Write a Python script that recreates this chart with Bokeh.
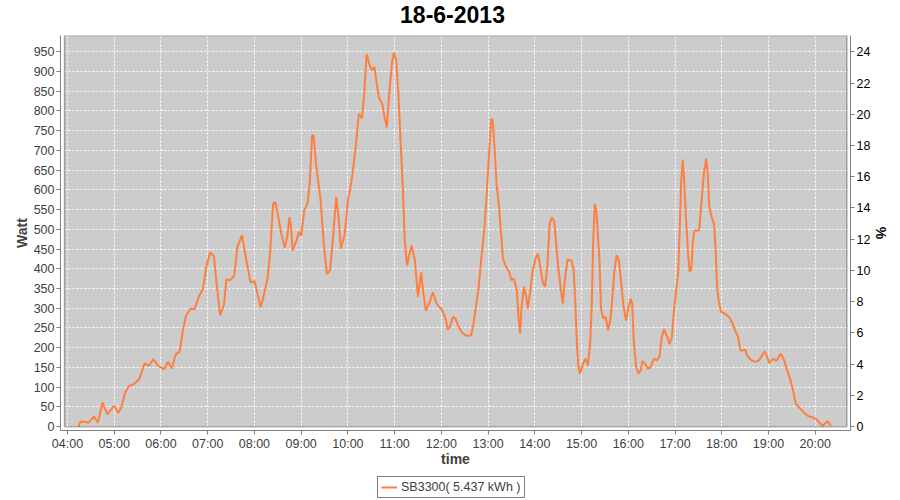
from bokeh.plotting import figure
from bokeh.layouts import column
from bokeh.models import (Range1d, LinearAxis, FixedTicker, BoxAnnotation, Legend,
                          LegendItem, ColumnDataSource, Label)
from bokeh.embed import file_html
from bokeh.resources import INLINE

title_text = "18-6-2013"
series_name = "SB3300( 5.437 kWh )"
x_label = "time"
left_label = "Watt"
right_label = "%"

time_labels = [
    "04:14", "04:17", "04:21", "04:27", "04:34", "04:39", "04:45", "04:51", "05:00", "05:05",
    "05:09", "05:14", "05:19", "05:25", "05:32", "05:39", "05:45", "05:50", "05:56", "06:04",
    "06:09", "06:14", "06:19", "06:24", "06:28", "06:32", "06:38", "06:43", "06:49", "06:54",
    "06:58", "07:03", "07:08", "07:12", "07:16", "07:21", "07:24", "07:29", "07:34", "07:38",
    "07:44", "07:49", "07:55", "08:00", "08:04", "08:08", "08:12", "08:17", "08:20", "08:24",
    "08:27", "08:31", "08:35", "08:39", "08:42", "08:45", "08:47", "08:49", "08:54", "08:57",
    "09:00", "09:04", "09:08", "09:11", "09:14", "09:16", "09:19", "09:22", "09:25", "09:29",
    "09:33", "09:37", "09:41", "09:45", "09:48", "09:51", "09:56", "10:00", "10:03", "10:06",
    "10:10", "10:14", "10:18", "10:21", "10:24", "10:28", "10:31", "10:34", "10:37", "10:40",
    "10:44", "10:47", "10:50", "10:53", "10:57", "10:59", "11:02", "11:05", "11:08", "11:11",
    "11:13", "11:16", "11:19", "11:22", "11:26", "11:30", "11:34", "11:36", "11:40", "11:45",
    "11:49", "11:54", "11:59", "12:01", "12:06", "12:08", "12:11", "12:15", "12:18", "12:22",
    "12:27", "12:32", "12:38", "12:41", "12:45", "12:48", "12:51", "12:55", "12:58", "13:01",
    "13:04", "13:06", "13:09", "13:11", "13:14", "13:17", "13:19", "13:23", "13:27", "13:30",
    "13:33", "13:37", "13:39", "13:41", "13:43", "13:46", "13:49", "13:51", "13:54", "13:57",
    "14:01", "14:04", "14:07", "14:10", "14:13", "14:16", "14:19", "14:22", "14:25", "14:27",
    "14:30", "14:34", "14:36", "14:39", "14:42", "14:47", "14:50", "14:52", "14:54", "14:56",
    "14:58", "15:02", "15:05", "15:08", "15:11", "15:13", "15:15", "15:17", "15:19", "15:23",
    "15:25", "15:28", "15:31", "15:34", "15:37", "15:39", "15:42", "15:45", "15:48", "15:51",
    "15:54", "15:57", "16:00", "16:03", "16:05", "16:07", "16:10", "16:13", "16:16", "16:18",
    "16:21", "16:25", "16:28", "16:33", "16:37", "16:40", "16:43", "16:46", "16:50", "16:53",
    "16:56", "16:58", "17:00", "17:04", "17:06", "17:08", "17:10", "17:12", "17:14", "17:17",
    "17:19", "17:21", "17:23", "17:25", "17:28", "17:31", "17:34", "17:37", "17:40", "17:42",
    "17:44", "17:47", "17:50", "17:52", "17:54", "17:56", "17:59", "18:05", "18:10", "18:14",
    "18:17", "18:21", "18:24", "18:27", "18:30", "18:33", "18:38", "18:43", "18:48", "18:52",
    "18:55", "18:58", "19:01", "19:06", "19:10", "19:13", "19:16", "19:20", "19:24", "19:28",
    "19:31", "19:35", "19:40", "19:45", "19:51", "19:56", "20:02", "20:06", "20:10", "20:16",
    "20:20",
]
watts = [
    0, 13, 12, 10, 25, 10, 61, 31, 53, 34,
    48, 86, 103, 107, 120, 160, 154, 171, 155, 145,
    164, 147, 183, 190, 242, 280, 299, 297, 331, 350,
    403, 441, 432, 352, 282, 310, 373, 371, 382, 454,
    485, 428, 365, 369, 336, 302, 332, 378, 438, 565,
    569, 527, 484, 453, 480, 531, 505, 446, 472, 493,
    484, 548, 565, 615, 738, 738, 666, 620, 573, 463,
    387, 395, 480, 582, 531, 450, 489, 573, 603, 641,
    709, 793, 781, 844, 944, 916, 903, 912, 870, 832,
    819, 785, 758, 844, 929, 948, 929, 836, 709, 582,
    472, 408, 438, 459, 421, 328, 391, 353, 294, 315,
    340, 311, 300, 295, 269, 246, 253, 278, 274, 253,
    237, 230, 231, 257, 312, 354, 421, 497, 582, 683,
    780, 776, 683, 611, 557, 481, 426, 405, 392, 371,
    375, 345, 278, 236, 303, 354, 329, 299, 341, 392,
    426, 438, 405, 367, 354, 405, 514, 531, 519, 472,
    405, 337, 312, 380, 423, 421, 396, 312, 210, 151,
    134, 160, 172, 155, 210, 303, 472, 565, 548, 421,
    299, 274, 278, 244, 269, 312, 392, 434, 421, 362,
    303, 269, 300, 324, 312, 219, 151, 134, 143, 166,
    161, 147, 149, 172, 168, 177, 227, 247, 227, 209,
    227, 278, 320, 388, 497, 624, 677, 616, 531, 430,
    392, 400, 472, 497, 497, 497, 569, 641, 679, 641,
    557, 531, 514, 455, 354, 320, 291, 285, 276, 261,
    244, 227, 193, 193, 195, 178, 168, 164, 168, 181,
    191, 178, 161, 172, 166, 175, 185, 168, 143, 119,
    96, 58, 47, 37, 26, 24, 18, 8, 2, 14,
    2,
]

hour_ticks = list(range(4, 21))
hour_tick_labels = ["04:00", "05:00", "06:00", "07:00", "08:00", "09:00", "10:00", "11:00",
                    "12:00", "13:00", "14:00", "15:00", "16:00", "17:00", "18:00", "19:00",
                    "20:00"]
watt_ticks = list(range(0, 951, 50))
pct_ticks = list(range(0, 25, 2))
watt_per_pct = 950.0 / 24.0

# plot-area extents (inner = shaded data area, outer = where the axes sit)
x_inner = (3.936, 20.678)
x_outer = (3.850, 20.755)
y_inner = (-0.5, 991.4)
y_outer = (-10.1, 991.4)

hours = [int(t[:2]) + int(t[3:]) / 60.0 for t in time_labels]
src = ColumnDataSource(dict(x=hours, w=watts))

FONT = "Liberation Sans"
GRAY_TXT = "#404040"
AXIS_GRAY = "#808080"
LINE_COLOR = "#FF7F3F"

# ---- title strip ----
ts = figure(width=900, height=35, output_backend="svg", toolbar_location=None,
            x_range=Range1d(0, 1), y_range=Range1d(0, 35),
            x_axis_type=None, y_axis_type=None,
            min_border_left=0, min_border_right=0, min_border_top=0, min_border_bottom=0,
            background_fill_color="white", border_fill_color="white")
ts.outline_line_color = None
ts.xgrid.visible = False
ts.ygrid.visible = False
ts.title.visible = False
ts.add_layout(Label(x=0.5, y=21, text=title_text, text_align="center",
                    text_baseline="middle", x_offset=-3,
                    text_font=FONT, text_font_size="23px", text_font_style="bold",
                    text_color="black"))

# ---- main chart ----
p = figure(width=900, height=441, output_backend="svg", toolbar_location=None,
           x_range=Range1d(*x_outer), y_range=Range1d(*y_outer),
           min_border_left=60, min_border_right=50, min_border_top=0, min_border_bottom=46,
           background_fill_color="white", border_fill_color="white")
p.outline_line_color = None
p.title.visible = False

bg = BoxAnnotation(left=x_inner[0], right=x_inner[1], bottom=y_inner[0], top=y_inner[1],
                   fill_color="#CCCCCC", fill_alpha=1.0, line_color=None, level="image")
p.add_layout(bg)
border = BoxAnnotation(left=x_inner[0], right=x_inner[1], bottom=y_inner[0], top=y_inner[1],
                       fill_alpha=0.0, line_color="black", line_width=1.5, level="guide")
p.add_layout(border)

xa = p.below[0]
xa.ticker = FixedTicker(ticks=hour_ticks)
xa.major_label_overrides = {h: lab for h, lab in zip(hour_ticks, hour_tick_labels)}
xa.axis_label = x_label
ya = p.left[0]
ya.ticker = FixedTicker(ticks=watt_ticks)
ya.axis_label = left_label

p.xgrid.ticker = FixedTicker(ticks=hour_ticks)
p.ygrid.ticker = FixedTicker(ticks=watt_ticks)
for g in (p.xgrid, p.ygrid):
    g.grid_line_color = "white"
    g.grid_line_dash = "2 2"
    g.grid_line_width = 1

p.extra_y_ranges = {"pct": Range1d(y_outer[0] / watt_per_pct, y_outer[1] / watt_per_pct)}
ra = LinearAxis(y_range_name="pct", ticker=FixedTicker(ticks=pct_ticks), axis_label=right_label)
p.add_layout(ra, "right")

for ax in (xa, ya, ra):
    ax.axis_line_color = AXIS_GRAY
    ax.axis_line_width = 1
    ax.major_tick_line_color = AXIS_GRAY
    ax.major_tick_in = 0
    ax.major_tick_out = 4
    ax.minor_tick_line_color = None
    ax.major_label_text_font = FONT
    ax.major_label_text_font_size = "12.5px"
    ax.major_label_text_color = GRAY_TXT
    ax.major_label_standoff = 2
    ax.axis_label_text_font = FONT
    ax.axis_label_text_font_size = "14px"
    ax.axis_label_text_font_style = "bold"
    ax.axis_label_text_color = GRAY_TXT
xa.axis_label_standoff = -3
ya.axis_label_standoff = 1
ra.axis_label_standoff = 0
ra.major_label_text_color = "black"
ra.axis_label_text_color = "black"

p.line(x="x", y="w", source=src, line_color=LINE_COLOR, line_width=2)

# ---- legend strip ----
lg = figure(width=900, height=24, output_backend="svg", toolbar_location=None,
            x_range=Range1d(0, 1), y_range=Range1d(0, 1),
            x_axis_type=None, y_axis_type=None,
            min_border_left=0, min_border_right=0, min_border_top=0, min_border_bottom=0,
            background_fill_color="white", border_fill_color="white")
lg.outline_line_color = None
lg.xgrid.visible = False
lg.ygrid.visible = False
lg.title.visible = False
# same series, drawn outside this strip's ranges: only its legend key shows
key = lg.line(x="x", y="w", source=src, line_color=LINE_COLOR, line_width=2)
legend = Legend(items=[LegendItem(label=series_name, renderers=[key])],
                orientation="horizontal", location=(317, 2),
                border_line_color="black", border_line_width=1,
                background_fill_color="white", background_fill_alpha=1.0,
                padding=3, margin=0, spacing=0,
                glyph_width=16, glyph_height=14, label_height=14, label_standoff=4,
                label_text_font=FONT, label_text_font_size="12.5px",
                label_text_color=GRAY_TXT)
lg.add_layout(legend, "center")

layout = column(ts, p, lg, spacing=0)
open("out.html", "w").write(file_html(layout, INLINE))
